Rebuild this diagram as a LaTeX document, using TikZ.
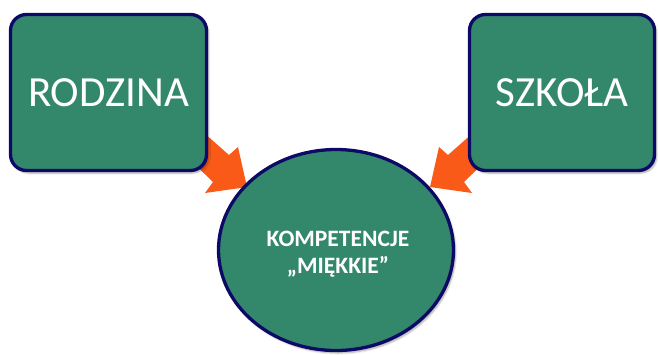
\documentclass[tikz,border=0pt]{standalone}
\usepackage{fontspec}
\setmainfont{Carlito}
\usetikzlibrary{shapes.geometric,shadows.blur}
\definecolor{boxgreen}{RGB}{51,135,106}
\definecolor{navyline}{RGB}{12,10,102}
\definecolor{arroworange}{RGB}{249,90,23}
\tikzset{
  softshadow/.style={blur shadow={shadow xshift=2pt,shadow yshift=-2.5pt,shadow blur steps=6,shadow opacity=35}},
  greenbox/.style={draw=navyline,line width=3.3pt,fill=boxgreen,rounded corners=16pt,
    text=white,font=\fontsize{43}{50}\selectfont,inner sep=0pt,softshadow},
  greenoval/.style={ellipse,draw=navyline,line width=3.3pt,fill=boxgreen,text=white,
    font=\bfseries\fontsize{23.5}{27}\selectfont,align=center,inner sep=0pt,softshadow},
  blockarrow/.style={fill=arroworange,draw=none}
}
\begin{document}
\begin{tikzpicture}[x=1pt,y=-1pt]
\useasboundingbox (0,0) rectangle (658,354);
% block arrows (behind)
\fill[blockarrow] (195,125) -- (229,155) -- (238,147) -- (247,187) -- (205,193) -- (213,182) -- (180,150) -- cycle;
\fill[blockarrow] (482,125) -- (448,155) -- (439,147) -- (430,187) -- (472,193) -- (464,182) -- (497,150) -- cycle;
\node[greenbox,minimum width=196pt,minimum height=156pt] (rodzina) at (108.5,92.5) {RODZINA};
\node[greenbox,minimum width=185pt,minimum height=156pt] (szkola) at (562,92.5) {SZKOŁA};
\node[greenoval,minimum width=235pt,minimum height=201pt] (komp) at (336,250) {};
\node[text=white,font=\bfseries\fontsize{23.5}{27}\selectfont,align=center,inner sep=0pt] (komptext) at (338,254) {KOMPETENCJE\\„MIĘKKIE”};
\end{tikzpicture}
\end{document}
